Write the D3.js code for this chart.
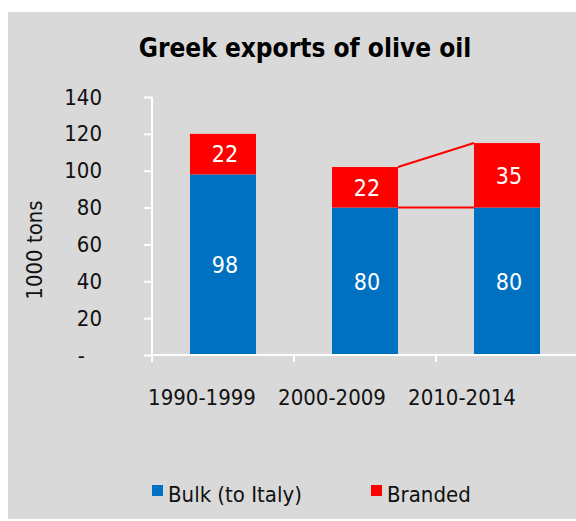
<!DOCTYPE html>
<html>
<head>
<meta charset="utf-8">
<script src="https://cdn.jsdelivr.net/npm/d3@7"></script>
<style>
  html, body { margin: 0; padding: 0; background: #fff; }
  svg { display: block; }
  text { font-family: "DejaVu Sans Condensed", "DejaVu Sans", sans-serif; }
</style>
</head>
<body>
<svg id="chart" width="576" height="521"></svg>
<script>
// Greek olive oil exports, thousand tons, by period
const categories = ["1990-1999", "2000-2009", "2010-2014"];
const bulk = [98, 80, 80];
const branded = [22, 22, 35];
const seriesNames = ["Bulk (to Italy)", "Branded"];
const yTicks = [0, 20, 40, 60, 80, 100, 120, 140];

const colors = { bulk: "#0070C0", branded: "#FF0000" };
const svg = d3.select("#chart");

// panel background
svg.append("rect").attr("x", 8).attr("y", 12).attr("width", 580).attr("height", 507).attr("fill", "#D9D9D9");

const x = d3.scaleBand().domain(categories).range([152, 578]).paddingInner(0.535).paddingOuter(0.2675);
const xBands = d3.scaleBand().domain(categories).range([152, 578]);
const xLabels = d3.scaleBand().domain(categories).range([137, 527]);
const y = d3.scaleLinear().domain([0, 140]).range([355, 97]);

const rows = categories.map((c, i) => ({ cat: c, bulk: bulk[i], branded: branded[i] }));
const stacked = d3.stack().keys(["bulk", "branded"])(rows);

// bars
stacked.forEach(layer => {
  svg.append("g").selectAll("rect").data(layer).join("rect")
    .attr("x", d => x(d.data.cat))
    .attr("width", x.bandwidth())
    .attr("y", d => y(d[1]))
    .attr("height", d => y(d[0]) - y(d[1]))
    .attr("fill", colors[layer.key]);
});

// series lines between the last two periods
const i1 = 1, i2 = 2;
stacked.forEach(layer => {
  svg.append("line")
    .attr("x1", x(categories[i1]) + x.bandwidth())
    .attr("y1", y(layer[i1][1]))
    .attr("x2", x(categories[i2]))
    .attr("y2", y(layer[i2][1]))
    .attr("stroke", colors.branded)
    .attr("stroke-width", 2);
});

// value labels
stacked.forEach(layer => {
  svg.append("g").selectAll("text").data(layer).join("text")
    .attr("x", d => x(d.data.cat) + x.bandwidth() / 2 + 2)
    .attr("y", d => (y(d[0]) + y(d[1])) / 2)
    .attr("dy", "0.36em")
    .attr("text-anchor", "middle")
    .attr("fill", "#fff")
    .attr("font-size", 23)
    .text(d => d.data[layer.key]);
});

// y axis
const yAxis = d3.axisLeft(y).tickValues(yTicks).tickSize(8).tickPadding(42)
  .tickFormat(d => d === 0 ? "-" : d);
const gy = svg.append("g").attr("transform", "translate(152,0)").call(yAxis);
gy.select(".domain").attr("d", "M0,97V362").attr("stroke", "#fff").attr("stroke-width", 2);
gy.selectAll(".tick line").attr("stroke", "#fff").attr("stroke-width", 2);
gy.selectAll(".tick text").attr("fill", "#111").attr("font-size", 22)
  .attr("font-family", "'DejaVu Sans Condensed', 'DejaVu Sans', sans-serif")
  .attr("dx", d => d === 0 ? -17 : 0);

// x axis line with ticks at band edges
const edges = categories.map(c => xBands(c)).concat([xBands.range()[1]]);
const gx = svg.append("g").attr("transform", "translate(0,355)");
gx.append("line").attr("x1", 151).attr("x2", 580).attr("stroke", "#fff").attr("stroke-width", 2);
gx.selectAll("line.t").data(edges).join("line").attr("class", "t")
  .attr("x1", d => d).attr("x2", d => d).attr("y1", 0).attr("y2", 7)
  .attr("stroke", "#fff").attr("stroke-width", 2);

// category labels
const xAxis = d3.axisBottom(xLabels).tickSize(0).tickPadding(0);
const gl = svg.append("g").attr("transform", "translate(0,389)").call(xAxis);
gl.select(".domain").remove();
gl.selectAll(".tick text").attr("fill", "#111").attr("font-size", 22)
  .attr("font-family", "'DejaVu Sans Condensed', 'DejaVu Sans', sans-serif")
  .attr("dy", "0.71em");

// y axis title
svg.append("text")
  .attr("transform", "translate(42,250) rotate(-90)")
  .attr("text-anchor", "middle")
  .attr("fill", "#111")
  .attr("font-size", 22)
  .text("1000 tons");

// title
svg.append("text")
  .attr("x", 305).attr("y", 57)
  .attr("text-anchor", "middle")
  .attr("font-weight", "bold")
  .attr("font-size", 26)
  .attr("fill", "#000")
  .text("Greek exports of olive oil");

// legend
const legendX = [152, 371];
const legendColors = [colors.bulk, colors.branded];
const lg = svg.append("g").selectAll("g").data(seriesNames).join("g")
  .attr("transform", (d, i) => `translate(${legendX[i]},485)`);
lg.append("rect").attr("width", 11).attr("height", 11).attr("fill", (d, i) => legendColors[i]);
lg.append("text").attr("x", 16).attr("y", 17).attr("fill", "#111").attr("font-size", 22).text(d => d);
</script>
</body>
</html>
